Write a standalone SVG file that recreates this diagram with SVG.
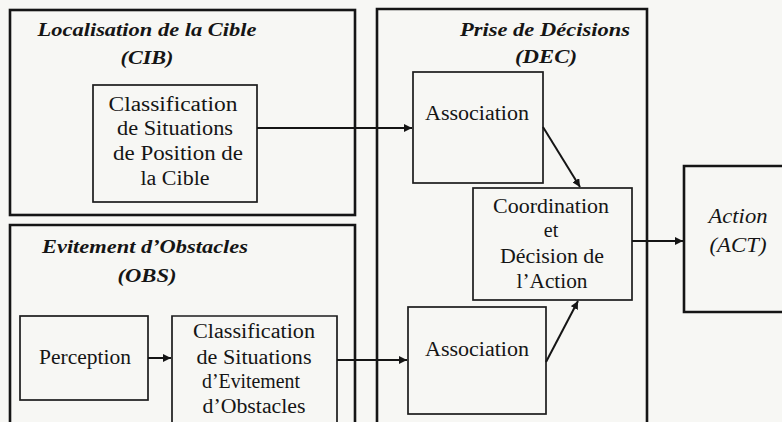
<svg xmlns="http://www.w3.org/2000/svg" width="782" height="422" viewBox="0 0 782 422">
  <style>
    .bg { fill: #f7f7f4; }
    .outer { fill: none; stroke: #151515; stroke-width: 2.6; }
    .inner { fill: none; stroke: #1c1c1c; stroke-width: 1.7; }
    .wire { fill: none; stroke: #151515; stroke-width: 2; }
    .lbl { fill: #151515; text-anchor: middle; }
    .title { font-size: 19px; font-weight: bold; font-style: italic; }
    .body { font-size: 20px; }
    .ital { font-size: 20px; font-style: italic; }
  </style>
  <defs>
    <marker id="head" viewBox="0 0 8 8" refX="8" refY="4" markerWidth="4" markerHeight="4" orient="auto" markerUnits="strokeWidth">
      <path d="M0,0 L8,4 L0,8 z" fill="#151515"/>
    </marker>
  </defs>

  <rect class="bg" x="0" y="0" width="782" height="422"/>

  <g font-family="'Liberation Serif', 'DejaVu Serif', serif">
  <!-- Target localisation module -->
  <g id="cib">
    <rect class="outer" x="10" y="10" width="345" height="205"/>
    <text class="lbl title" x="147" y="36" textLength="219" lengthAdjust="spacingAndGlyphs">Localisation de la Cible</text>
    <text class="lbl title" x="147" y="64" textLength="53" lengthAdjust="spacingAndGlyphs">(CIB)</text>
  </g>
  <g id="cib-classif">
    <rect class="inner" x="93" y="85" width="164" height="117"/>
    <text class="lbl body" x="173" y="111" textLength="129" lengthAdjust="spacingAndGlyphs">Classification</text>
    <text class="lbl body" x="175" y="135" textLength="116" lengthAdjust="spacingAndGlyphs">de Situations</text>
    <text class="lbl body" x="178" y="160" textLength="130" lengthAdjust="spacingAndGlyphs">de Position de</text>
    <text class="lbl body" x="175" y="185" textLength="69" lengthAdjust="spacingAndGlyphs">la Cible</text>
  </g>

  <!-- Obstacle avoidance module -->
  <g id="obs">
    <path class="outer" d="M10,424 V225 H355 V424"/>
    <text class="lbl title" x="145" y="253" textLength="206" lengthAdjust="spacingAndGlyphs">Evitement d’Obstacles</text>
    <text class="lbl title" x="147" y="282" textLength="59" lengthAdjust="spacingAndGlyphs">(OBS)</text>
  </g>
  <g id="perception">
    <rect class="inner" x="20" y="316" width="128" height="84"/>
    <text class="lbl body" x="85" y="364" textLength="92" lengthAdjust="spacingAndGlyphs">Perception</text>
  </g>
  <g id="obs-classif">
    <path class="inner" d="M172,424 V316 H337 V424"/>
    <text class="lbl body" x="254" y="338" textLength="122" lengthAdjust="spacingAndGlyphs">Classification</text>
    <text class="lbl body" x="254" y="364" textLength="115" lengthAdjust="spacingAndGlyphs">de Situations</text>
    <text class="lbl body" x="251" y="388" textLength="98" lengthAdjust="spacingAndGlyphs">d’Evitement</text>
    <text class="lbl body" x="254" y="413" textLength="103" lengthAdjust="spacingAndGlyphs">d’Obstacles</text>
  </g>

  <!-- Decision module -->
  <g id="dec">
    <path class="outer" d="M377,424 V9 H647 V424"/>
    <text class="lbl title" x="545" y="36" textLength="170" lengthAdjust="spacingAndGlyphs">Prise de Décisions</text>
    <text class="lbl title" x="546" y="63" textLength="62" lengthAdjust="spacingAndGlyphs">(DEC)</text>
  </g>
  <g id="assoc-cib">
    <rect class="inner" x="413" y="72" width="130" height="111"/>
    <text class="lbl body" x="477" y="120" textLength="104" lengthAdjust="spacingAndGlyphs">Association</text>
  </g>
  <g id="coordination">
    <rect class="inner" x="473" y="188" width="159" height="112"/>
    <text class="lbl body" x="551" y="213" textLength="116" lengthAdjust="spacingAndGlyphs">Coordination</text>
    <text class="lbl body" x="551" y="237">et</text>
    <text class="lbl body" x="552" y="263" textLength="104" lengthAdjust="spacingAndGlyphs">Décision de</text>
    <text class="lbl body" x="552" y="288" textLength="71" lengthAdjust="spacingAndGlyphs">l’Action</text>
  </g>
  <g id="assoc-obs">
    <rect class="inner" x="408" y="307" width="138" height="107"/>
    <text class="lbl body" x="477" y="356" textLength="104" lengthAdjust="spacingAndGlyphs">Association</text>
  </g>

  <!-- Action module -->
  <g id="act">
    <path class="outer" d="M784,166 H684 V312 H784"/>
    <text class="lbl ital" x="738" y="223" textLength="59" lengthAdjust="spacingAndGlyphs">Action</text>
    <text class="lbl ital" x="738" y="252" textLength="57" lengthAdjust="spacingAndGlyphs">(ACT)</text>
  </g>
  </g>

  <!-- Connectors -->
  <g id="connectors">
    <line class="wire" x1="257" y1="128" x2="412" y2="128" marker-end="url(#head)"/>
    <line class="wire" x1="148" y1="358" x2="171" y2="358" marker-end="url(#head)"/>
    <line class="wire" x1="337" y1="360" x2="407" y2="360" marker-end="url(#head)"/>
    <line class="wire" x1="543" y1="127" x2="580" y2="187" marker-end="url(#head)"/>
    <line class="wire" x1="546" y1="362" x2="578" y2="301" marker-end="url(#head)"/>
    <line class="wire" x1="632" y1="241" x2="683" y2="241" marker-end="url(#head)"/>
  </g>
</svg>
